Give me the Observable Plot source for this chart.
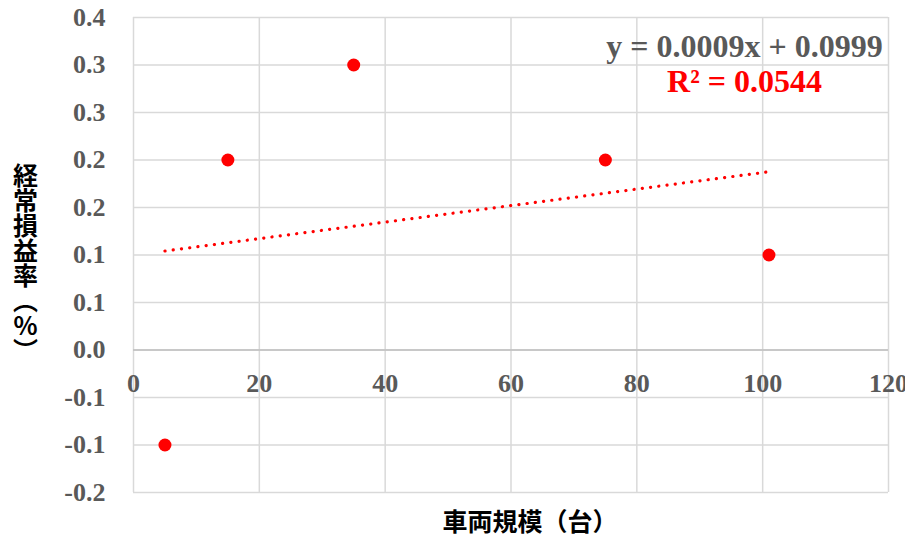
<!DOCTYPE html>
<html>
<head>
<meta charset="utf-8">
<script src="https://cdn.jsdelivr.net/npm/d3@7"></script>
<script src="https://cdn.jsdelivr.net/npm/@observablehq/plot@0.6"></script>
<style>
  html, body { margin: 0; padding: 0; background: #ffffff; }
</style>
</head>
<body>
<div id="chart"></div>
<script>
// Fleet size (vehicles) vs. ordinary profit rate
const vehicles = [5, 15, 35, 75, 101];
const profitRate = [-0.1, 0.2, 0.3, 0.2, 0.1];

const xTicks = [0, 20, 40, 60, 80, 100, 120];
const xTickLabels = ["0", "20", "40", "60", "80", "100", "120"];
const yTicks = [-0.15, -0.1, -0.05, 0, 0.05, 0.1, 0.15, 0.2, 0.25, 0.3, 0.35];
const yTickLabels = ["-0.2", "-0.1", "-0.1", "0.0", "0.1", "0.1", "0.2", "0.2", "0.3", "0.3", "0.4"];

const xTitle = "車両規模（台）";
const yTitle = "経常損益率（％）";

const data = vehicles.map((v, i) => ({x: v, y: profitRate[i]}));

// least-squares fit for the equation label
const mx = d3.mean(vehicles), my = d3.mean(profitRate);
const sxy = d3.sum(data, d => (d.x - mx) * (d.y - my));
const sxx = d3.sum(data, d => (d.x - mx) ** 2);
const syy = d3.sum(data, d => (d.y - my) ** 2);
const slope = sxy / sxx;
const intercept = my - slope * mx;
const r2 = (sxy * sxy) / (sxx * syy);
const eqText = `y = ${slope.toFixed(4)}x + ${intercept.toFixed(4)}`;
const r2Text = `R² = ${r2.toFixed(4)}`;

// vertical setting of the y title: one character per line,
// brackets swapped for their vertical forms
const verticalForms = {"（": "︵", "）": "︶"};
const yTitleVertical = Array.from(yTitle).map(c => verticalForms[c] || c).join("\n");

const serif = "'Liberation Serif', 'Times New Roman', serif";
const gothic = "'Noto Sans CJK JP', sans-serif";
const gridColor = "#d9d9d9";
const labelGray = "#595959";

const chart = Plot.plot({
  width: 905,
  height: 540,
  marginLeft: 133,
  marginRight: 17,
  marginTop: 17,
  marginBottom: 48,
  x: {domain: [0, 120], axis: null},
  y: {domain: [-0.15, 0.35], axis: null},
  marks: [
    Plot.ruleX(xTicks, {x: d => d, stroke: gridColor, strokeWidth: 1.5}),
    Plot.ruleY(yTicks, {y: d => d, stroke: gridColor, strokeWidth: 1.5}),
    Plot.ruleY([0], {stroke: "#bfbfbf", strokeWidth: 1.5}),
    Plot.text(yTicks, {
      y: d => d, text: (d, i) => yTickLabels[i], frameAnchor: "left",
      dx: -28, textAnchor: "end", lineAnchor: "middle", fontFamily: serif,
      fontWeight: "bold", fontSize: 26, fill: labelGray
    }),
    Plot.text(xTicks, {
      x: d => d, y: () => 0, text: (d, i) => xTickLabels[i], dy: 34,
      textAnchor: "middle", lineAnchor: "middle", fontFamily: serif,
      fontWeight: "bold", fontSize: 26, fill: labelGray
    }),
    Plot.linearRegressionY(data, {
      x: "x", y: "y", ci: 0, stroke: "#ff0000", strokeWidth: 3.2,
      strokeDasharray: "0.1 8.2", strokeLinecap: "round"
    }),
    Plot.dot(data, {x: "x", y: "y", r: 6.5, fill: "#ff0000", stroke: "none"}),
    Plot.text([eqText], {
      text: d => d, frameAnchor: "top-right", dx: -144, dy: 29,
      textAnchor: "middle", lineAnchor: "middle", fontFamily: serif,
      fontWeight: "bold", fontSize: 32, fill: labelGray
    }),
    Plot.text([r2Text], {
      text: d => d, frameAnchor: "top-right", dx: -144, dy: 64,
      textAnchor: "middle", lineAnchor: "middle", fontFamily: serif,
      fontWeight: "bold", fontSize: 32, fill: "#ff0000"
    }),
    Plot.text([xTitle], {
      text: d => d, frameAnchor: "bottom", dx: 19, dy: 30,
      textAnchor: "middle", lineAnchor: "middle", fontFamily: gothic,
      fontWeight: "bold", fontSize: 25, fill: "#000000"
    }),
    Plot.text([yTitleVertical], {
      text: d => d, frameAnchor: "left", dx: -108, dy: 9,
      textAnchor: "middle", lineAnchor: "middle", lineHeight: 1,
      fontFamily: gothic, fontWeight: "bold", fontSize: 25, fill: "#000000"
    })
  ]
});

document.getElementById("chart").appendChild(chart);
</script>
</body>
</html>
